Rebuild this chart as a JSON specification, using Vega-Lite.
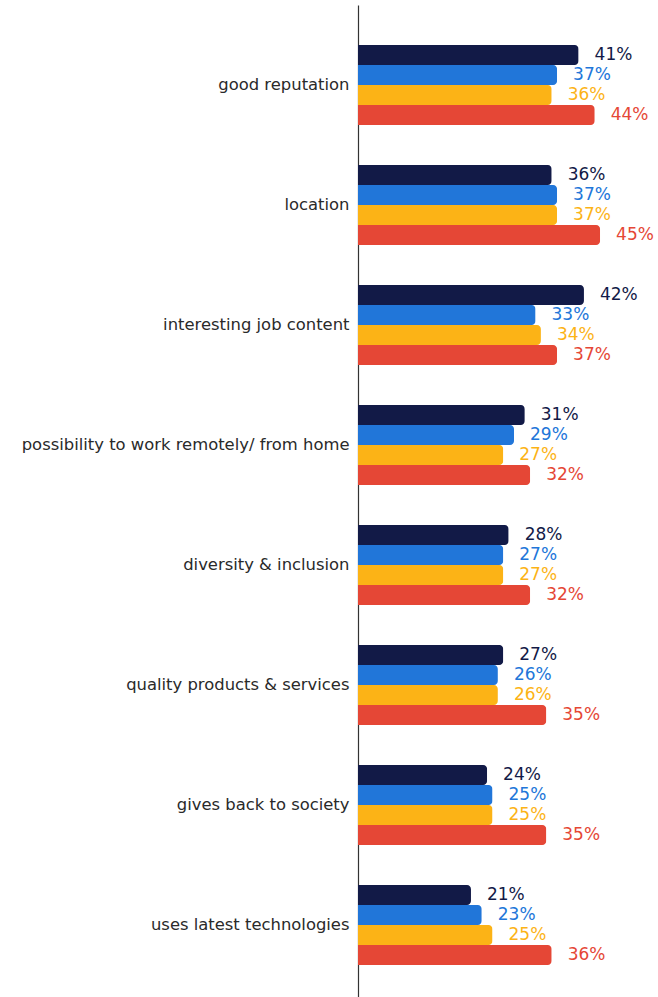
{
  "$schema": "https://vega.github.io/schema/vega-lite/v6.json",
  "width": 300,
  "height": 992,
  "autosize": {"type": "none"},
  "padding": {"left": 358, "top": 5, "right": 0, "bottom": 0},
  "background": "white",
  "config": {"view": {"stroke": null}},
  "data": {
    "values": [
      {"attribute": "good reputation", "series": "Series 1", "value": 0.41},
      {"attribute": "good reputation", "series": "Series 2", "value": 0.37},
      {"attribute": "good reputation", "series": "Series 3", "value": 0.36},
      {"attribute": "good reputation", "series": "Series 4", "value": 0.44},
      {"attribute": "location", "series": "Series 1", "value": 0.36},
      {"attribute": "location", "series": "Series 2", "value": 0.37},
      {"attribute": "location", "series": "Series 3", "value": 0.37},
      {"attribute": "location", "series": "Series 4", "value": 0.45},
      {"attribute": "interesting job content", "series": "Series 1", "value": 0.42},
      {"attribute": "interesting job content", "series": "Series 2", "value": 0.33},
      {"attribute": "interesting job content", "series": "Series 3", "value": 0.34},
      {"attribute": "interesting job content", "series": "Series 4", "value": 0.37},
      {"attribute": "possibility to work remotely/ from home", "series": "Series 1", "value": 0.31},
      {"attribute": "possibility to work remotely/ from home", "series": "Series 2", "value": 0.29},
      {"attribute": "possibility to work remotely/ from home", "series": "Series 3", "value": 0.27},
      {"attribute": "possibility to work remotely/ from home", "series": "Series 4", "value": 0.32},
      {"attribute": "diversity & inclusion", "series": "Series 1", "value": 0.28},
      {"attribute": "diversity & inclusion", "series": "Series 2", "value": 0.27},
      {"attribute": "diversity & inclusion", "series": "Series 3", "value": 0.27},
      {"attribute": "diversity & inclusion", "series": "Series 4", "value": 0.32},
      {"attribute": "quality products & services", "series": "Series 1", "value": 0.27},
      {"attribute": "quality products & services", "series": "Series 2", "value": 0.26},
      {"attribute": "quality products & services", "series": "Series 3", "value": 0.26},
      {"attribute": "quality products & services", "series": "Series 4", "value": 0.35},
      {"attribute": "gives back to society", "series": "Series 1", "value": 0.24},
      {"attribute": "gives back to society", "series": "Series 2", "value": 0.25},
      {"attribute": "gives back to society", "series": "Series 3", "value": 0.25},
      {"attribute": "gives back to society", "series": "Series 4", "value": 0.35},
      {"attribute": "uses latest technologies", "series": "Series 1", "value": 0.21},
      {"attribute": "uses latest technologies", "series": "Series 2", "value": 0.23},
      {"attribute": "uses latest technologies", "series": "Series 3", "value": 0.25},
      {"attribute": "uses latest technologies", "series": "Series 4", "value": 0.36}
    ]
  },
  "encoding": {
    "y": {
      "field": "attribute",
      "type": "nominal",
      "sort": null,
      "scale": {"range": [0, 1000], "paddingInner": 0.3333, "paddingOuter": 0.3333},
      "axis": {
        "title": null,
        "ticks": false,
        "labelPadding": 9,
        "labelFont": "DejaVu Sans",
        "labelFontSize": 16.4,
        "labelColor": "#2a2a2a",
        "labelLimit": 400,
        "domainColor": "#333333",
        "domainWidth": 1.2
      }
    },
    "yOffset": {
      "field": "series",
      "type": "nominal",
      "sort": null,
      "scale": {"paddingInner": 0, "paddingOuter": 0}
    },
    "x": {
      "field": "value",
      "type": "quantitative",
      "scale": {"domain": [0, 0.5576], "nice": false},
      "axis": null
    },
    "color": {
      "field": "series",
      "type": "nominal",
      "sort": null,
      "scale": {
        "domain": ["Series 1", "Series 2", "Series 3", "Series 4"],
        "range": ["#121a47", "#2176d9", "#fcb316", "#e54736"]
      },
      "legend": null
    }
  },
  "layer": [
    {"mark": {"type": "bar", "cornerRadiusEnd": 4}},
    {
      "mark": {"type": "text", "align": "left", "baseline": "middle", "dx": 16, "font": "DejaVu Sans", "fontSize": 17},
      "encoding": {"text": {"field": "value", "type": "quantitative", "format": ".0%"}, "color": {"field": "series", "type": "nominal", "sort": null, "legend": null}}
    }
  ]
}
